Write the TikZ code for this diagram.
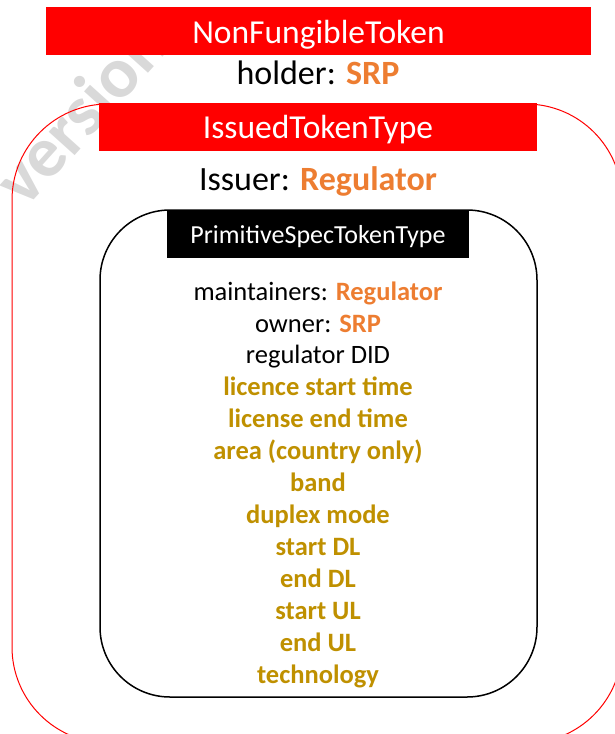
\documentclass[tikz,border=0pt]{standalone}
\usepackage{fontspec}
\setmainfont{Carlito}
\definecolor{xred}{HTML}{FF0000}
\definecolor{xorange}{HTML}{ED7D31}
\definecolor{xgold}{HTML}{BF9000}
\definecolor{xwm}{HTML}{D9D9D9}
\begin{document}
\begin{tikzpicture}[x=1pt,y=-1pt,
  titlebox/.style={fill=#1, text=white, inner sep=0pt, font=\fontsize{33.5}{36}\selectfont},
  bigtext/.style={anchor=base, inner sep=0pt, font=\fontsize{34}{38}\selectfont},
  bodytext/.style={anchor=base, inner sep=0pt, font=\fontsize{26.5}{30}\selectfont},
  goldtext/.style={bodytext, text=xgold, font=\fontsize{26.5}{30}\selectfont\bfseries}]
\useasboundingbox (0,0) rectangle (615,734);
\clip (0,0) rectangle (615,734);
% watermark
\node[text=xwm, font=\fontsize{72}{76}\selectfont\bfseries, rotate=48, inner sep=0pt] (wm) at (80,112) {version};
% outer container
\node[draw=xred, line width=1pt, rounded corners=96pt, minimum width=610pt, minimum height=639pt, inner sep=0pt] (outer) at (317,423.5) {};
% title boxes
\node[titlebox=xred, minimum width=545pt, minimum height=48pt] (nft) at (318.5,31) {};
\node[titlebox=xred, anchor=base] (nftt) at (318.5,43) {NonFungibleToken};
\node[bigtext] (holder) at (318,84) {holder: {\color{xorange}\bfseries SRP}};
\node[titlebox=xred, minimum width=438pt, minimum height=48pt] (itt) at (318,127) {};
\node[titlebox=xred, anchor=base] (ittt) at (318,138) {IssuedTokenType};
\node[bigtext] (issuer) at (318,190) {Issuer: {\color{xorange}\bfseries Regulator}};
% inner container
\node[draw=black, line width=1.5pt, rounded corners=70pt, minimum width=437pt, minimum height=487pt, inner sep=0pt] (inner) at (318.5,453.5) {};
\node[fill=black, minimum width=302pt, minimum height=48pt, inner sep=0pt] (pst) at (318,234) {};
\node[bodytext, text=white, font=\fontsize{26}{30}\selectfont] (pstt) at (318,243) {PrimitiveSpecTokenType};
% attributes
\node[bodytext] (l1) at (318,300) {maintainers: {\color{xorange}\bfseries Regulator}};
\node[bodytext] (l2) at (318,332) {owner: {\color{xorange}\bfseries SRP}};
\node[bodytext] (l3) at (318,363) {regulator DID};
\node[goldtext] (l4) at (318,395) {licence start time};
\node[goldtext] (l5) at (318,427) {license end time};
\node[goldtext] (l6) at (318,459) {area (country only)};
\node[goldtext] (l7) at (318,491) {band};
\node[goldtext] (l8) at (318,523) {duplex mode};
\node[goldtext] (l9) at (318,555) {start DL};
\node[goldtext] (l10) at (318,587) {end DL};
\node[goldtext] (l11) at (318,619) {start UL};
\node[goldtext] (l12) at (318,651) {end UL};
\node[goldtext] (l13) at (318,683) {technology};
\end{tikzpicture}
\end{document}
